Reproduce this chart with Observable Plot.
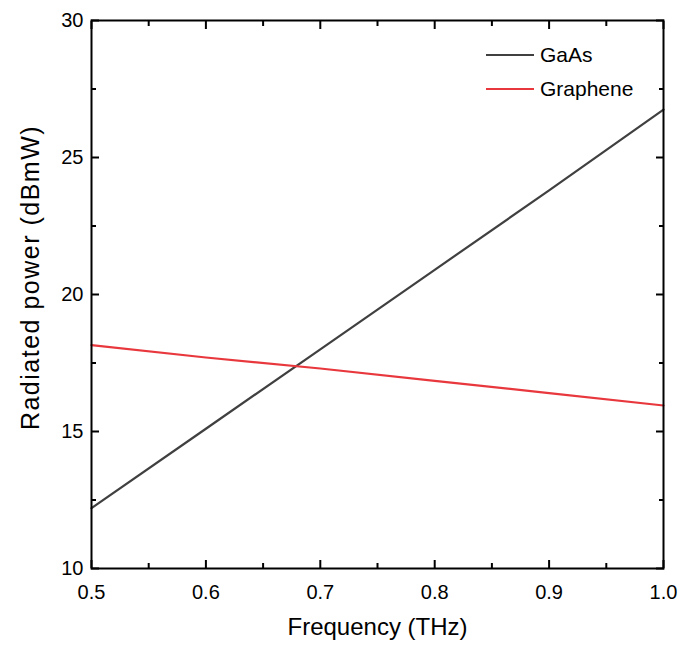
<!DOCTYPE html>
<html>
<head>
<meta charset="utf-8">
<script src="https://cdn.jsdelivr.net/npm/d3@7"></script>
<script src="https://cdn.jsdelivr.net/npm/@observablehq/plot@0.6"></script>
<style>
  html, body { margin: 0; padding: 0; background: #fff; }
  svg { font-family: "Liberation Sans", Arial, sans-serif; }
</style>
</head>
<body>
<div id="chart"></div>
<script>
// Data
const freq = [0.5, 0.6, 0.7, 0.8, 0.9, 1.0];
const gaas = [12.2, 15.1, 18.0, 20.9, 23.8, 26.75];
const graphene = [18.15, 17.7, 17.3, 16.85, 16.4, 15.95];
const seriesNames = ["GaAs", "Graphene"];
const seriesColors = ["#404040", "#e8383d"];
const xTicks = [0.5, 0.6, 0.7, 0.8, 0.9, 1.0];
const xMinor = [0.55, 0.65, 0.75, 0.85, 0.95];
const yTicks = [10, 15, 20, 25, 30];
const yMinor = [12.5, 17.5, 22.5, 27.5];
const xLabel = "Frequency (THz)";
const yLabel = "Radiated power (dBmW)";

const rows = [];
freq.forEach((f, i) => {
  rows.push({f, v: gaas[i], s: seriesNames[0]});
  rows.push({f, v: graphene[i], s: seriesNames[1]});
});

const empty = () => "";
const chart = Plot.plot({
  width: 680,
  height: 651,
  marginLeft: 91,
  marginRight: 17,
  marginTop: 20,
  marginBottom: 83,
  style: {fontFamily: "Liberation Sans, Arial, sans-serif", color: "#000", background: "#fff"},
  x: {domain: [0.5, 1.0], label: null},
  y: {domain: [10, 30], label: null},
  color: {domain: seriesNames, range: seriesColors},
  marks: [
    Plot.line(rows, {x: "f", y: "v", z: "s", stroke: "s", strokeWidth: 2.2}),
    // bottom axis labels
    Plot.axisX({ticks: xTicks, tickSize: 0, tickPadding: 16, fontSize: 20, tickFormat: d3.format(".1f")}),
    // inward ticks on all sides
    Plot.axisX({ticks: xTicks, anchor: "bottom", tickSize: -8, tickFormat: empty, strokeWidth: 2}),
    Plot.axisX({ticks: xMinor, anchor: "bottom", tickSize: -5, tickFormat: empty, strokeWidth: 2}),
    Plot.axisX({ticks: xTicks, anchor: "top", tickSize: -8, tickFormat: empty, strokeWidth: 2}),
    Plot.axisX({ticks: xMinor, anchor: "top", tickSize: -5, tickFormat: empty, strokeWidth: 2}),
    Plot.axisY({ticks: yTicks, tickSize: 0, tickPadding: 8, fontSize: 20}),
    Plot.axisY({ticks: yTicks, anchor: "left", tickSize: -8, tickFormat: empty, strokeWidth: 2}),
    Plot.axisY({ticks: yMinor, anchor: "left", tickSize: -5, tickFormat: empty, strokeWidth: 2}),
    Plot.axisY({ticks: yTicks, anchor: "right", tickSize: -8, tickFormat: empty, strokeWidth: 2}),
    Plot.axisY({ticks: yMinor, anchor: "right", tickSize: -5, tickFormat: empty, strokeWidth: 2}),
    Plot.frame({stroke: "#000", strokeWidth: 2}),
    Plot.text([xLabel], {frameAnchor: "bottom", dy: 66, fontSize: 24, fill: "#000", textAnchor: "middle"}),
    Plot.text([yLabel], {frameAnchor: "left", rotate: -90, dx: -61, dy: -17, fontSize: 25, fill: "#000", textAnchor: "middle"})
  ]
});
document.getElementById("chart").appendChild(chart);

const svg = d3.select(chart);
// stretch the y label slightly, as in the reference
svg.selectAll("text").filter(function() { return this.textContent === yLabel; })
  .style("letter-spacing", "1.5px");

// Legend (top-right, inside plot)
const lg = svg.append("g").attr("font-size", 21).attr("text-anchor", "start")
  .attr("font-family", "Liberation Sans, Arial, sans-serif");
seriesNames.forEach((name, i) => {
  const y = 55 + i * 34;
  lg.append("line").attr("x1", 486).attr("x2", 534).attr("y1", y).attr("y2", y)
    .attr("stroke", seriesColors[i]).attr("stroke-width", 2.2);
  lg.append("text").attr("x", 540).attr("y", y).attr("dy", "0.35em").attr("fill", "#000").text(name);
});
</script>
</body>
</html>
